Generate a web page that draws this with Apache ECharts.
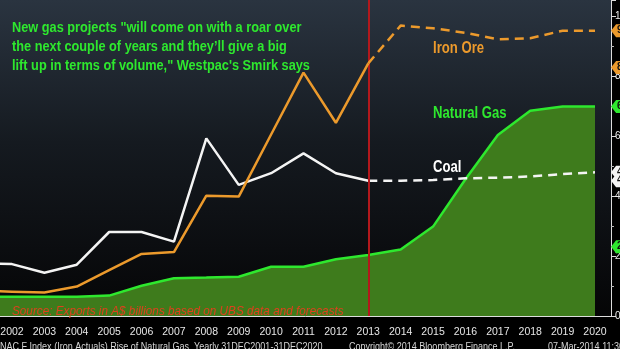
<!DOCTYPE html>
<html><head><meta charset="utf-8">
<script src="https://cdn.jsdelivr.net/npm/echarts@6/dist/echarts.min.js"></script>
<style>html,body{margin:0;padding:0;background:#000;}#c{width:620px;height:349px;}</style>
</head><body><div id="c"></div>
<script>
const years = [2001,2002,2003,2004,2005,2006,2007,2008,2009,2010,2011,2012,2013,2014,2015,2016,2017,2018,2019,2020];
const actualYears = [2001,2002,2003,2004,2005,2006,2007,2008,2009,2010,2011,2012,2013];
const forecastYears = [2013,2014,2015,2016,2017,2018,2019,2020];
const ironOreActual = [8.4, 8.1, 7.8, 9.8, 15.3, 20.7, 21.3, 40.1, 39.8, 60.5, 81.1, 64.4, 84.2];
const ironOreForecast = [84.2, 96.8, 95.9, 94.4, 92.2, 92.6, 95.1, 95.1];
const coalActual = [17.6, 17.3, 14.4, 17.1, 28.0, 28.0, 24.8, 59.2, 43.7, 47.6, 54.2, 47.6, 45.1];
const coalForecast = [45.1, 45.1, 45.3, 45.9, 46.1, 46.5, 47.3, 47.9];
const naturalGas = [6.4, 6.4, 6.4, 6.4, 6.8, 10.1, 12.6, 12.8, 13.1, 16.4, 16.4, 18.9, 20.3, 22.2, 29.8, 45.6, 60.3, 68.4, 69.8, 69.8];
const ironOreTags = [95.1, 82.8];
const gasTags = [69.8, 23.1];
const coalTags = [47.9, 45.1];
const forecastStart = 2013;
const yTicks = [0, 20, 40, 60, 80, 100];

const X_MIN = 2001, X_MAX = 2020.494, Y_MAX = 105.33;
const SANS = '"Liberation Sans", Arial, sans-serif';
const ORANGE = '#ec9a2c', GREEN = '#2ee82e', WHITE = '#f4f4f4', AREA = '#3e7b1c';

const pairs = (xs, vs) => xs.map((x, i) => [x, vs[i]]);
const tagPoints = (vals, color) => ({
  symbol: 'path://M0,6 L6,0 L40,0 L40,12 L6,12 Z',
  symbolSize: [34, 13],
  symbolOffset: [17, 0],
  silent: true,
  itemStyle: { color: color },
  label: { show: true, position: [6, 1], align: 'left', color: '#111', fontSize: 10, fontWeight: 'bold', fontFamily: SANS, formatter: p => p.value.toFixed(1) },
  data: vals.map(v => ({ coord: [X_MAX, v], value: v }))
});
const txt = (text, left, top, fill, font, sx) => ({
  type: 'text', x: left, y: top, scaleX: sx, z: 100, zlevel: 0,
  style: { text: text, fill: fill, font: font, lineHeight: 18.7 }
});

const chart = echarts.init(document.getElementById('c'), null, { renderer: 'canvas' });
chart.setOption({
  animation: false,
  backgroundColor: '#000',
  grid: {
    left: -20.4, right: 9, top: 0, bottom: 33, show: true, borderWidth: 0,
    containLabel: false, outerBoundsMode: 'none',
    backgroundColor: new echarts.graphic.LinearGradient(0, 0, 0, 1, [
      { offset: 0, color: '#2a3440' }, { offset: 0.45, color: '#151a20' }, { offset: 1, color: '#050506' }
    ])
  },
  xAxis: {
    type: 'value', min: X_MIN, max: X_MAX, interval: 1, offset: 7,
    axisLine: { show: true, lineStyle: { color: '#dddddd', width: 1 } },
    axisTick: { show: false }, splitLine: { show: false },
    axisLabel: { color: '#e6e6e6', fontSize: 10.5, fontFamily: SANS, margin: 4, showMaxLabel: false, hideOverlap: false,
      formatter: v => Number.isInteger(v) ? String(v) : '' }
  },
  yAxis: {
    type: 'value', position: 'right', min: 0, max: Y_MAX, interval: 20,
    axisLine: { show: true, lineStyle: { color: '#dddddd', width: 1 } },
    axisTick: { show: true, length: 5, lineStyle: { color: '#dddddd' } },
    minorTick: { show: true, splitNumber: 2, length: 3, lineStyle: { color: '#bbbbbb' } },
    splitLine: { show: false },
    axisLabel: { color: '#eeeeee', fontSize: 10, fontFamily: SANS, margin: 4, showMaxLabel: false,
      formatter: v => yTicks.includes(v) ? String(v) : '' }
  },
  series: [
    { name: 'Natural Gas', type: 'line', data: pairs(years, naturalGas), symbol: 'none', z: 2,
      lineStyle: { color: GREEN, width: 2.5 }, areaStyle: { color: AREA, opacity: 1 },
      markPoint: tagPoints(gasTags, GREEN),
      markLine: { silent: true, symbol: 'none', label: { show: false },
        lineStyle: { color: '#b3181c', width: 2, type: 'solid' }, data: [{ xAxis: forecastStart }] } },
    { name: 'Coal', type: 'line', data: pairs(actualYears, coalActual), symbol: 'none', z: 4,
      lineStyle: { color: WHITE, width: 2.5 } },
    { name: 'Coal forecast', type: 'line', data: pairs(forecastYears, coalForecast), symbol: 'none', z: 4,
      lineStyle: { color: WHITE, width: 2.5, type: [9, 6] }, markPoint: tagPoints(coalTags, WHITE) },
    { name: 'Iron Ore', type: 'line', data: pairs(actualYears, ironOreActual), symbol: 'none', z: 5,
      lineStyle: { color: ORANGE, width: 2.5 } },
    { name: 'Iron Ore forecast', type: 'line', data: pairs(forecastYears, ironOreForecast), symbol: 'none', z: 5,
      lineStyle: { color: ORANGE, width: 2.5, type: [9, 6] }, markPoint: tagPoints(ironOreTags, ORANGE) }
  ],
  graphic: {
    elements: [
      txt('New gas projects "will come on with a roar over\nthe next couple of years and they\u2019ll give a big\nlift up in terms of volume," Westpac\'s Smirk says', 12, 19, GREEN, 'bold 15px ' + SANS, 0.85),
      txt('Iron Ore', 433, 39, ORANGE, 'bold 16px ' + SANS, 0.82),
      txt('Natural Gas', 433, 104, GREEN, 'bold 16px ' + SANS, 0.82),
      txt('Coal', 433, 158, '#ffffff', 'bold 16px ' + SANS, 0.82),
      txt('Source: Exports in A$ billions based on UBS data and forecasts', 12, 302, '#e0401c', 'italic 13.5px ' + SANS, 0.87),
      txt('NAC F Index (Iron Actuals) Rise of Natural Gas  Yearly 31DEC2001-31DEC2020', 0, 338, '#d6d6d6', '11px ' + SANS, 0.82),
      txt('Copyright\u00a9 2014 Bloomberg Finance L.P.', 349, 338, '#d6d6d6', '11px ' + SANS, 0.82),
      txt('07-Mar-2014 11:30', 548, 338, '#d6d6d6', '11px ' + SANS, 0.82)
    ]
  }
});
</script></body></html>
